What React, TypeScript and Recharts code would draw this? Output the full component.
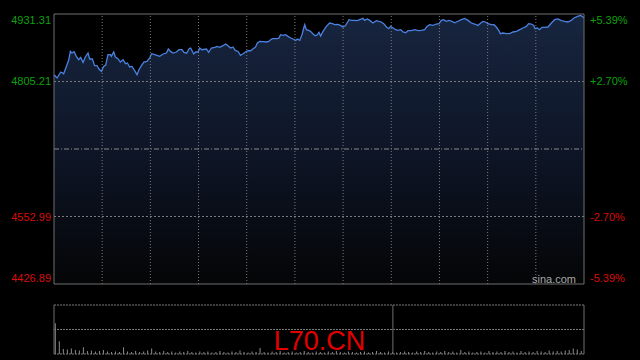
import React from 'react';
import { ComposedChart, Area, Line, XAxis, YAxis, ReferenceLine, BarChart, Bar } from 'recharts';

const prevClose = 4679.1;
const priceTicks = [4426.89, 4552.99, 4805.21, 4931.31];
const timeGrid = [30, 60, 90, 120, 150, 180, 210, 240, 270, 300];

const times = [
  0, 1.9, 4.2, 6.0, 7.7, 9.2, 10.2, 11.2, 12.5, 13.9,
  15.4, 16.6, 18.1, 19.5, 21.2, 22.2, 23.9, 25.3, 26.8, 28.0,
  29.5, 30.9, 32.2, 33.6, 35.1, 35.7, 37.2, 38.2, 39.8, 41.3,
  43.0, 44.5, 45.7, 47.1, 48.6, 50.2, 51.7, 52.9, 54.4, 56.0,
  57.9, 59.6, 60.8, 62.7, 65.8, 67.9, 70.0, 71.2, 72.5, 74.1,
  76.2, 77.8, 79.7, 80.9, 82.6, 84.1, 85.1, 87.0, 88.2, 89.7,
  90.7, 92.1, 94.9, 96.3, 98.0, 100.1, 101.5, 103.2, 105.2, 106.9,
  108.3, 110.0, 111.4, 112.9, 114.6, 116.1, 117.7, 119.2, 120.8, 122.5,
  123.9, 125.4, 126.6, 128.1, 130.1, 132.2, 133.7, 134.9, 136.0, 138.5,
  139.9, 141.1, 142.6, 144.1, 145.7, 147.4, 148.8, 150.5, 151.5, 153.0,
  154.4, 155.5, 156.1, 157.1, 158.6, 159.8, 161.3, 162.7, 164.0, 165.0,
  166.0, 167.5, 169.6, 171.6, 173.3, 174.8, 176.8, 178.3, 179.9, 181.4,
  183.7, 185.2, 186.8, 188.6, 190.3, 192.4, 193.4, 195.1, 196.6, 198.6,
  200.7, 202.3, 203.8, 205.3, 207.0, 208.4, 209.6, 211.1, 212.7, 214.2,
  215.9, 217.3, 219.0, 220.4, 222.5, 224.6, 226.6, 228.7, 230.8, 232.2,
  233.9, 236.0, 238.1, 239.7, 241.2, 242.6, 244.3, 245.9, 247.8, 249.5,
  251.5, 253.6, 255.7, 257.8, 259.9, 261.9, 264.0, 265.7, 267.1, 268.6,
  270.2, 272.3, 273.9, 275.4, 276.9, 277.9, 279.5, 281.7, 283.7, 285.8,
  287.9, 290.0, 292.0, 294.1, 295.5, 297.2, 298.7, 299.5, 301.0, 302.4,
  303.8, 305.5, 307.6, 309.7, 311.7, 313.8, 315.9, 318.0, 320.0, 322.1,
  323.7, 325.9, 327.9, 329.0, 330,
];

const prices = [
  4817.9, 4811.7, 4822.9, 4819.8, 4833.4, 4845.9, 4861.4, 4858.4, 4860.9, 4852.1,
  4845.9, 4850.2, 4840.9, 4851.0, 4858.4, 4847.2, 4847.2, 4834.7, 4834.7, 4828.5,
  4824.1, 4833.4, 4836.0, 4855.3, 4855.3, 4852.1, 4860.3, 4851.0, 4847.8, 4841.6,
  4845.9, 4838.5, 4839.8, 4832.3, 4833.4, 4825.4, 4817.9, 4827.2, 4834.7, 4841.6,
  4842.7, 4849.1, 4857.1, 4855.3, 4852.1, 4856.6, 4858.4, 4865.9, 4861.4, 4858.4,
  4860.3, 4864.6, 4864.6, 4859.6, 4858.0, 4866.5, 4867.8, 4856.6, 4860.3, 4860.3,
  4867.8, 4864.6, 4865.9, 4859.6, 4867.8, 4868.9, 4870.8, 4868.9, 4872.1, 4875.3,
  4872.1, 4867.8, 4869.7, 4863.3, 4861.4, 4854.0, 4857.1, 4860.3, 4862.7, 4862.7,
  4866.5, 4868.9, 4877.1, 4880.1, 4879.6, 4879.0, 4880.1, 4883.3, 4885.2, 4885.2,
  4885.7, 4892.6, 4891.3, 4892.6, 4889.5, 4886.5, 4884.6, 4882.0, 4884.6, 4882.0,
  4892.6, 4905.1, 4911.3, 4902.0, 4900.7, 4898.8, 4893.9, 4890.8, 4892.6, 4896.9,
  4890.2, 4898.8, 4908.1, 4914.5, 4913.2, 4911.3, 4911.9, 4910.0, 4907.0, 4909.4,
  4920.7, 4919.4, 4919.4, 4918.8, 4920.7, 4923.1, 4919.4, 4922.0, 4919.4, 4914.5,
  4918.8, 4917.5, 4916.4, 4913.2, 4907.0, 4903.8, 4908.1, 4905.1, 4902.0, 4900.7,
  4902.0, 4897.7, 4896.4, 4900.1, 4900.1, 4902.0, 4900.1, 4900.7, 4902.0, 4908.1,
  4911.3, 4910.0, 4912.6, 4913.2, 4919.4, 4920.7, 4917.5, 4919.4, 4917.5, 4915.0,
  4917.8, 4920.7, 4923.1, 4919.4, 4914.5, 4912.6, 4910.0, 4914.5, 4917.5, 4916.4,
  4913.2, 4911.3, 4911.3, 4907.0, 4900.7, 4894.5, 4895.8, 4894.5, 4894.5, 4897.7,
  4898.8, 4902.0, 4905.1, 4908.1, 4913.2, 4912.6, 4910.0, 4903.8, 4905.1, 4902.0,
  4906.3, 4906.3, 4907.0, 4914.5, 4920.7, 4922.0, 4918.8, 4917.5, 4916.4, 4919.4,
  4923.8, 4926.8, 4928.7, 4926.8, 4923.8,
];

const volumes = [
  63, 26, 10, 9, 11, 8, 7, 14, 6, 7,
  5, 6, 8, 5, 4, 5, 4, 14, 5, 4,
  6, 4, 5, 7, 11, 5, 4, 6, 4, 5,
  3, 5, 4, 6, 4, 3, 5, 4, 5, 3,
  4, 6, 4, 3, 5, 4, 7, 4, 3, 5,
  4, 12, 4, 3, 5, 4, 6, 3, 4, 5,
  3, 4, 6, 4, 3, 5, 4, 3, 5, 4,
  6, 4, 3, 5, 4, 3, 4, 5, 3, 4,
  6, 4, 3, 5, 4, 3, 4, 5, 4, 3,
  5, 4, 6, 4, 3, 5, 4, 6, 4, 5,
  3, 8, 4, 5, 3, 4, 5, 3, 6, 4,
  5, 4, 6, 4, 5, 3, 6, 4, 5, 4,
  6, 5, 4, 7, 5, 6, 5, 7, 8, 11,
  9, 6,
];

const priceData = times.map((t, i) => ({ t, p: prices[i] }));
const volData = volumes.map((v, i) => ({ t: i * 2.5 + 0.5, v }));

const FONT = '"Liberation Sans", Arial, sans-serif';
const GREEN = '#0ea00e';
const RED = '#d80c0c';
const GRID = '#7a7a7a';
const BORDER = '#6e6e6e';

const edgeOffset = (v: number) => (v === priceTicks[3] ? 5.5 : v === priceTicks[0] ? -6 : 0);

const LeftTick = (props: any) => {
  const { y, payload } = props;
  const v = Number(payload.value);
  return (
    <text x={51} y={y + edgeOffset(v) + 4} textAnchor="end" fill={v > prevClose ? GREEN : RED} fontSize={11} fontFamily={FONT}>
      {v.toFixed(2)}
    </text>
  );
};

const RightTick = (props: any) => {
  const { y, payload } = props;
  const v = Number(payload.value);
  const pct = ((v - prevClose) / prevClose) * 100;
  const label = (pct > 0 ? '+' : '') + pct.toFixed(2) + '%';
  return (
    <text x={590} y={y + edgeOffset(v) + 4} textAnchor="start" fill={pct > 0 ? GREEN : RED} fontSize={11} fontFamily={FONT}>
      {label}
    </text>
  );
};

export default function App() {
  return (
    <div style={{ position: 'absolute', left: 0, top: 0, width: 640, height: 360, background: '#000', overflow: 'hidden' }}>
      <div style={{ position: 'absolute', left: 0, top: 0 }}>
        <ComposedChart width={640} height={300} data={priceData} margin={{ top: 14, right: 0, bottom: 16, left: 0 }}>
          <defs>
            <linearGradient id="fillGrad" x1="0" y1="0" x2="0" y2="1">
              <stop offset="0%" stopColor="#17253f" />
              <stop offset="55%" stopColor="#0d1424" />
              <stop offset="100%" stopColor="#040506" />
            </linearGradient>
          </defs>
          <XAxis dataKey="t" type="number" domain={[0, 330]} hide />
          <YAxis yAxisId="l" domain={[4426.89, 4931.31]} ticks={priceTicks} width={54} axisLine={false} tickLine={false} tick={<LeftTick />} interval={0} allowDataOverflow />
          <YAxis yAxisId="r" orientation="right" domain={[4426.89, 4931.31]} ticks={priceTicks} width={56} axisLine={false} tickLine={false} tick={<RightTick />} interval={0} allowDataOverflow />
          <Area yAxisId="l" dataKey="p" type="linear" stroke="#4a82e0" strokeWidth={1.3} fill="url(#fillGrad)" fillOpacity={1} baseValue={4426.89} dot={false} activeDot={false} isAnimationActive={false} />
          <Line yAxisId="r" dataKey="p" stroke="none" dot={false} activeDot={false} isAnimationActive={false} />
          {timeGrid.map((t) => (
            <ReferenceLine key={'v' + t} yAxisId="l" x={t} stroke={GRID} strokeDasharray="1 2" />
          ))}
          <ReferenceLine yAxisId="l" y={4805.21} stroke={GRID} strokeDasharray="2 2" />
          <ReferenceLine yAxisId="l" y={4552.99} stroke={GRID} strokeDasharray="2 2" />
          <ReferenceLine yAxisId="l" y={prevClose} stroke="#8a8a8a" strokeDasharray="5 2 1 2" />
          <ReferenceLine yAxisId="l" y={4931.31} stroke={BORDER} />
          <ReferenceLine yAxisId="l" y={4426.89} stroke={BORDER} />
          <ReferenceLine yAxisId="l" x={0} stroke={BORDER} />
          <ReferenceLine yAxisId="l" x={330} stroke={BORDER} />
        </ComposedChart>
      </div>
      <div style={{ position: 'absolute', left: 0, top: 0 }}>
        <BarChart width={640} height={360} data={volData} margin={{ top: 305, right: 56, bottom: 6, left: 54 }}>
          <XAxis dataKey="t" type="number" domain={[0, 330]} hide />
          <YAxis domain={[0, 100]} hide allowDataOverflow />
          <Bar dataKey="v" fill="#8c8c8c" barSize={1} isAnimationActive={false} />
          <ReferenceLine y={100} stroke={GRID} strokeDasharray="2 1" />
          <ReferenceLine y={50} stroke={GRID} strokeDasharray="2 1" />
          <ReferenceLine y={0} stroke={GRID} strokeDasharray="2 1" />
          <ReferenceLine x={0} stroke={BORDER} />
          <ReferenceLine x={330} stroke={BORDER} />
          <ReferenceLine x={211} stroke={BORDER} />
        </BarChart>
      </div>
      <svg width={640} height={360} style={{ position: 'absolute', left: 0, top: 0, pointerEvents: 'none' }}>
        <text x={532} y={283} fill="#a8a8a8" fontSize={11} fontFamily={FONT}>sina.com</text>
        <text x={319.5} y={350} textAnchor="middle" fill="#e00000" fontSize={27} fontFamily={FONT}>L70.CN</text>
      </svg>
    </div>
  );
}
